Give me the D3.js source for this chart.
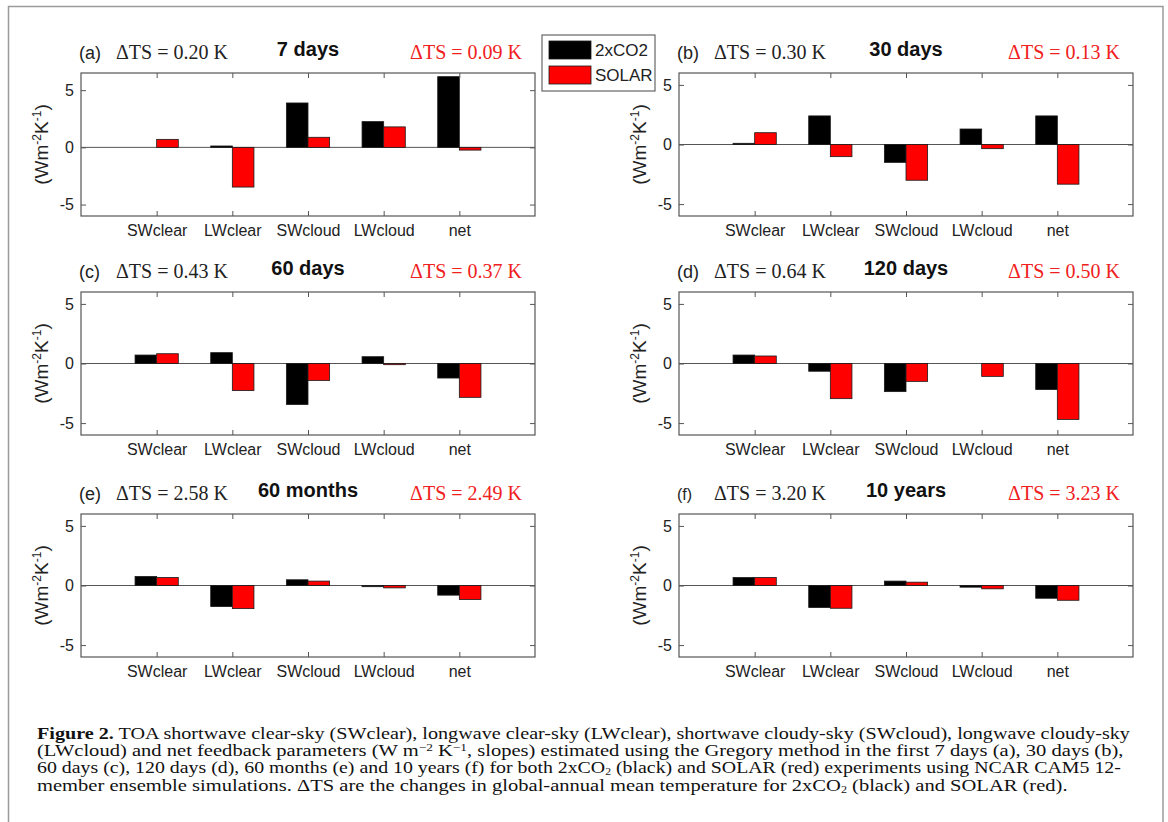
<!DOCTYPE html>
<html>
<head>
<meta charset="utf-8">
<script src="https://cdn.jsdelivr.net/npm/d3@7"></script>
<style>
  body { margin: 0; background: #fff; }
  svg { display: block; }
</style>
</head>
<body>
<script>
const svgWidth = 1168;
const svgHeight = 822;

// Data
const categories = ["SWclear", "LWclear", "SWcloud", "LWcloud", "net"];
const panelLabels = ["(a)", "(b)", "(c)", "(d)", "(e)", "(f)"];
const periods = ["7 days", "30 days", "60 days", "120 days", "60 months", "10 years"];
const dtsCO2 = ["0.20", "0.30", "0.43", "0.64", "2.58", "3.20"];
const dtsSolar = ["0.09", "0.13", "0.37", "0.50", "2.49", "3.23"];
const co2Values = [
  [0.0, 0.12, 3.88, 2.25, 6.18],
  [0.1, 2.4, -1.5, 1.3, 2.4],
  [0.71, 0.91, -3.44, 0.57, -1.22],
  [0.71, -0.65, -2.36, 0.0, -2.19],
  [0.76, -1.77, 0.48, -0.1, -0.81],
  [0.67, -1.85, 0.37, -0.14, -1.07]
];
const solarValues = [
  [0.7, -3.47, 0.88, 1.79, -0.24],
  [0.99, -1.02, -3.0, -0.35, -3.33],
  [0.82, -2.27, -1.42, -0.1, -2.84],
  [0.63, -2.95, -1.5, -1.08, -4.69],
  [0.67, -1.94, 0.37, -0.2, -1.18],
  [0.67, -1.91, 0.28, -0.28, -1.24]
];
const yMax = [6.5, 6, 6, 6, 6, 6];
const yMin = -6;
const yTicks = [-5, 0, 5];
const seriesNames = ["2xCO2", "SOLAR"];
const seriesColors = ["#000000", "#ff0000"];

const captionLines = [
  [{t: "Figure 2.", b: true}, {t: " TOA shortwave clear-sky (SWclear), longwave clear-sky (LWclear), shortwave cloudy-sky (SWcloud), longwave cloudy-sky"}],
  [{t: "(LWcloud) and net feedback parameters (W m"}, {t: "\u22122", sup: true}, {t: " K"}, {t: "\u22121", sup: true}, {t: ", slopes) estimated using the Gregory method in the first 7 days (a), 30 days (b),"}],
  [{t: "60 days (c), 120 days (d), 60 months (e) and 10 years (f) for both 2xCO"}, {t: "2", sub: true}, {t: " (black) and SOLAR (red) experiments using NCAR CAM5 12-"}],
  [{t: "member ensemble simulations. \u0394TS are the changes in global-annual mean temperature for 2xCO"}, {t: "2", sub: true}, {t: " (black) and SOLAR (red)."}]
];
const captionRight = [1131, 1124, 1122, 1068];

const sans = "'Liberation Sans', Arial, Helvetica, sans-serif";
const serif = "'Liberation Serif', 'Times New Roman', serif";

const svg = d3.select("body")
  .append("svg")
  .attr("width", svgWidth)
  .attr("height", svgHeight);

// outer frame
svg.append("rect")
  .attr("x", 8.5).attr("y", 6.5)
  .attr("width", 1154.5).attr("height", 840)
  .attr("fill", "none")
  .attr("stroke", "#9a9a9a")
  .attr("stroke-width", 1.5);

// panel boxes
const colLeft = [81, 679];
const boxWidth = 454;
const rowTop = [73, 292, 514];
const boxHeight = 143;
const barWidth = 0.2857;

function drawPanel(p) {
  const col = p % 2;
  const row = Math.floor(p / 2);
  const left = colLeft[col];
  const right = left + boxWidth;
  const top = rowTop[row];
  const bottom = top + boxHeight;

  const x = d3.scaleLinear().domain([0, 6]).range([left, right]);
  const y = d3.scaleLinear().domain([yMin, yMax[p]]).range([bottom, top]);

  const g = svg.append("g");

  // zero baseline
  g.append("line")
    .attr("x1", left).attr("x2", right)
    .attr("y1", y(0)).attr("y2", y(0))
    .attr("stroke", "#555").attr("stroke-width", 1);

  // bars
  const rows = categories.map((c, i) => ({i: i, co2: co2Values[p][i], solar: solarValues[p][i]}));
  [["co2", -barWidth], ["solar", 0]].forEach(([key, off], s) => {
    g.selectAll("rect." + key)
      .data(rows)
      .enter()
      .append("rect")
      .attr("class", key)
      .attr("x", d => x(d.i + 1 + off))
      .attr("width", x(barWidth) - x(0))
      .attr("y", d => y(Math.max(0, d[key])))
      .attr("height", d => Math.abs(y(d[key]) - y(0)))
      .attr("fill", seriesColors[s])
      .attr("stroke", "#1a1a1a")
      .attr("stroke-width", 0.8);
  });

  // axes with inward ticks
  const xTickVals = categories.map((c, i) => i + 1);
  const styleAxis = a => {
    a.select(".domain").remove();
    a.selectAll("line").attr("stroke", "#555");
    a.selectAll("text")
      .attr("fill", "#222")
      .style("font-family", sans)
      .style("font-size", "16px");
  };

  g.append("g")
    .attr("transform", `translate(0, ${bottom})`)
    .call(d3.axisBottom(x).tickValues(xTickVals).tickFormat(d => categories[d - 1]).tickSize(-5).tickPadding(9))
    .call(styleAxis);
  g.append("g")
    .attr("transform", `translate(0, ${top})`)
    .call(d3.axisTop(x).tickValues(xTickVals).tickFormat("").tickSize(-5))
    .call(styleAxis);
  g.append("g")
    .attr("transform", `translate(${left}, 0)`)
    .call(d3.axisLeft(y).tickValues(yTicks).tickFormat(d => String(d)).tickSize(-5).tickPadding(7))
    .call(styleAxis);
  g.append("g")
    .attr("transform", `translate(${right}, 0)`)
    .call(d3.axisRight(y).tickValues(yTicks).tickFormat("").tickSize(-5))
    .call(styleAxis);

  // box
  g.append("rect")
    .attr("x", left).attr("y", top)
    .attr("width", boxWidth).attr("height", boxHeight)
    .attr("fill", "none")
    .attr("stroke", "#555").attr("stroke-width", 1.2);

  // y label
  const yl = g.append("text")
    .attr("transform", `translate(${left - 33}, ${(top + bottom) / 2}) rotate(-90)`)
    .attr("text-anchor", "middle")
    .attr("fill", "#222")
    .style("font-family", sans)
    .style("font-size", "19px");
  yl.append("tspan").text("(Wm");
  yl.append("tspan").attr("dy", -7).style("font-size", "12px").text("-2");
  yl.append("tspan").attr("dy", 7).text("K");
  yl.append("tspan").attr("dy", -7).style("font-size", "12px").text("-1");
  yl.append("tspan").attr("dy", 7).text(")");

  // titles
  g.append("text")
    .attr("x", left - 2).attr("y", top - 14)
    .attr("fill", "#222")
    .style("font-family", sans).style("font-size", p === 5 ? "16px" : "18px")
    .text(panelLabels[p]);
  g.append("text")
    .attr("x", left + 35).attr("y", top - 14)
    .attr("fill", "#222")
    .style("font-family", serif).style("font-size", "20px")
    .text(`\u0394TS = ${dtsCO2[p]} K`);
  g.append("text")
    .attr("x", (left + right) / 2).attr("y", top - 17)
    .attr("text-anchor", "middle")
    .attr("fill", "#111")
    .style("font-family", sans).style("font-size", "20px").style("font-weight", "bold")
    .text(periods[p]);
  g.append("text")
    .attr("x", right - 13).attr("y", top - 14)
    .attr("text-anchor", "end")
    .attr("fill", "#f02020")
    .style("font-family", serif).style("font-size", "20px")
    .text(`\u0394TS = ${dtsSolar[p]} K`);
}

d3.range(6).forEach(drawPanel);

// legend
const legend = svg.append("g").attr("transform", "translate(542, 35)");
legend.append("rect")
  .attr("width", 113).attr("height", 56)
  .attr("fill", "#fff")
  .attr("stroke", "#666").attr("stroke-width", 1.2);
seriesNames.forEach((name, i) => {
  legend.append("rect")
    .attr("x", 7).attr("y", 6 + i * 25)
    .attr("width", 42).attr("height", 18)
    .attr("fill", seriesColors[i])
    .attr("stroke", "#1a1a1a").attr("stroke-width", 0.8);
  legend.append("text")
    .attr("x", 53).attr("y", 21 + i * 25)
    .attr("fill", "#222")
    .style("font-family", sans).style("font-size", "17px")
    .text(name);
});

// caption
const capX = 37;
const capY = [739, 756, 773, 791];
captionLines.forEach((parts, li) => {
  const t = svg.append("text")
    .attr("x", 0).attr("y", 0)
    .attr("fill", "#111")
    .style("font-family", serif)
    .style("font-size", "17px");
  parts.forEach((part, i) => {
    const prev = parts[i - 1];
    const ts = t.append("tspan").text(part.t);
    if (part.b) ts.style("font-weight", "bold");
    if (part.sup) ts.attr("dy", -5).style("font-size", "11px");
    else if (part.sub) ts.attr("dy", 2).style("font-size", "10px");
    else if (prev && prev.sup) ts.attr("dy", 5);
    else if (prev && prev.sub) ts.attr("dy", -2);
  });
  const natural = t.node().getComputedTextLength();
  const k = (captionRight[li] - capX) / natural;
  t.attr("transform", `translate(${capX}, ${capY[li]}) scale(${k}, 1)`);
});
</script>
</body>
</html>
